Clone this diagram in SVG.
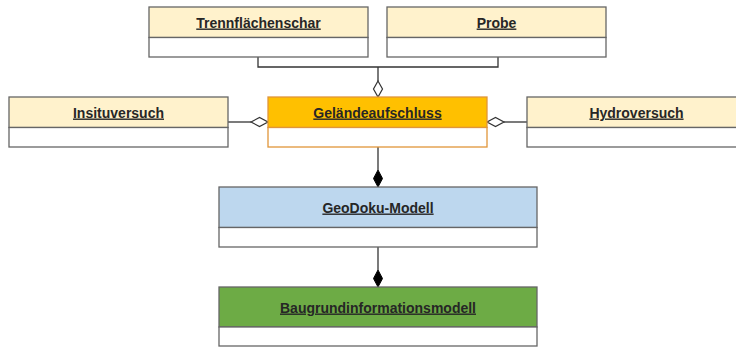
<svg xmlns="http://www.w3.org/2000/svg" width="736" height="347" viewBox="0 0 736 347">
  <defs>
    <style>
      .body { fill: #ffffff; stroke: #666666; stroke-width: 1.3; }
      .head { stroke: #666666; stroke-width: 1.3; }
      .cream { fill: #fff2cc; }
      .gold { fill: #ffc000; stroke: #e0963a; }
      .gold-body { fill: #ffffff; stroke: #e0963a; stroke-width: 1.3; }
      .blue { fill: #bdd7ee; }
      .green { fill: #6dab45; }
      .label { font-family: "Liberation Sans", Arial, sans-serif; font-size: 14px; font-weight: bold; fill: #262626; text-anchor: middle; text-decoration: underline; }
      .edge { fill: none; stroke: #333333; stroke-width: 1.3; }
      .open { fill: #ffffff; stroke: #333333; stroke-width: 1.2; }
      .solid { fill: #000000; stroke: #000000; stroke-width: 1; }
    </style>
  </defs>
  <rect width="736" height="347" fill="#ffffff"/>

  <g id="connectors">
    <!-- Trennflächenschar / Probe aggregated into Geländeaufschluss -->
    <polyline class="edge" points="258,57 258,67 498,67 498,57"/>
    <line class="edge" x1="378" y1="67" x2="378" y2="81"/>
    <polygon class="open" points="378,81 382.5,89 378,97 373.5,89"/>
    <!-- Insituversuch -> Geländeaufschluss -->
    <line class="edge" x1="228" y1="122" x2="251" y2="122"/>
    <polygon class="open" points="251,122 259.5,117.5 268,122 259.5,126.5"/>
    <!-- Hydroversuch -> Geländeaufschluss -->
    <line class="edge" x1="504" y1="122" x2="527" y2="122"/>
    <polygon class="open" points="487,122 495.5,117.5 504,122 495.5,126.5"/>
    <!-- Geländeaufschluss composed into GeoDoku-Modell -->
    <line class="edge" x1="378" y1="147" x2="378" y2="170"/>
    <polygon class="solid" points="378,170 382.5,178.5 378,187 373.5,178.5"/>
    <!-- GeoDoku-Modell composed into Baugrundinformationsmodell -->
    <line class="edge" x1="378" y1="247" x2="378" y2="270"/>
    <polygon class="solid" points="378,270 382.5,278.5 378,287 373.5,278.5"/>
  </g>

  <g id="trennflaechenschar">
    <rect class="head cream" x="149" y="7" width="219" height="30.5"/>
    <rect class="body" x="149" y="37.5" width="219" height="19.5"/>
    <text class="label" x="258.5" y="27.5">Trennflächenschar</text>
  </g>

  <g id="probe">
    <rect class="head cream" x="387" y="7" width="219" height="30.5"/>
    <rect class="body" x="387" y="37.5" width="219" height="19.5"/>
    <text class="label" x="496.5" y="27.5">Probe</text>
  </g>

  <g id="insituversuch">
    <rect class="head cream" x="9" y="97" width="219" height="30.5"/>
    <rect class="body" x="9" y="127.5" width="219" height="19.5"/>
    <text class="label" x="118.5" y="117.5">Insituversuch</text>
  </g>

  <g id="gelaendeaufschluss">
    <rect class="gold" x="268" y="97" width="219" height="30.5" stroke-width="1.3"/>
    <rect class="gold-body" x="268" y="127.5" width="219" height="19.5"/>
    <text class="label" x="377.5" y="117.5">Geländeaufschluss</text>
  </g>

  <g id="hydroversuch">
    <rect class="head cream" x="527" y="97" width="219" height="30.5"/>
    <rect class="body" x="527" y="127.5" width="219" height="19.5"/>
    <text class="label" x="636.5" y="117.5">Hydroversuch</text>
  </g>

  <g id="geodoku-modell">
    <rect class="head blue" x="219" y="187" width="318" height="40.5"/>
    <rect class="body" x="219" y="227.5" width="318" height="19.5"/>
    <text class="label" x="378" y="212.5">GeoDoku-Modell</text>
  </g>

  <g id="baugrundinformationsmodell">
    <rect class="head green" x="219" y="287" width="318" height="40"/>
    <rect class="body" x="219" y="327" width="318" height="19"/>
    <text class="label" x="378" y="312.5">Baugrundinformationsmodell</text>
  </g>
</svg>
